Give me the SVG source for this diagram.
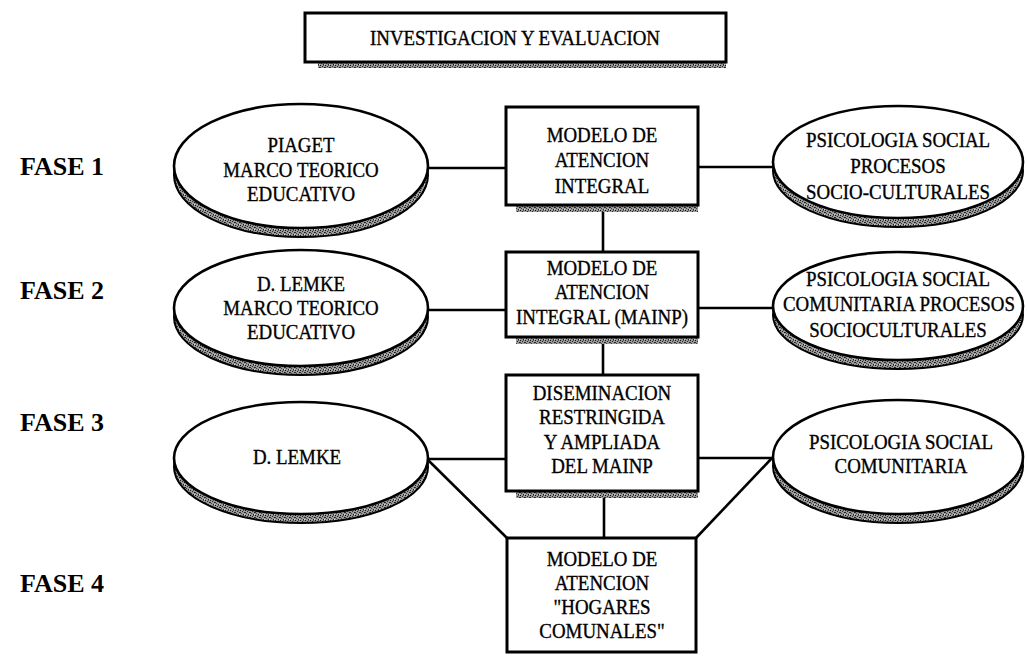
<svg xmlns="http://www.w3.org/2000/svg" width="1027" height="657" viewBox="0 0 1027 657">
<defs>
<pattern id="tex" width="5" height="5" patternUnits="userSpaceOnUse">
<rect width="5" height="5" fill="#9a9a9a"/>
<rect x="0" y="0" width="1" height="1" fill="#111"/>
<rect x="2" y="1" width="1" height="1" fill="#2a2a2a"/>
<rect x="4" y="2" width="1" height="1" fill="#1a1a1a"/>
<rect x="1" y="3" width="1" height="1" fill="#444"/>
<rect x="3" y="4" width="1" height="1" fill="#222"/>
<rect x="3" y="0" width="1" height="1" fill="#555"/>
<rect x="0" y="2" width="1" height="1" fill="#333"/>
<rect x="4" y="4" width="1" height="1" fill="#d8d8d8"/>
</pattern>
<style>
.t{font-family:"Liberation Serif","Times New Roman",serif;font-size:21px;fill:#000;stroke:#000;stroke-width:0.35;text-anchor:middle}
.f{font-family:"Liberation Serif","Times New Roman",serif;font-size:26px;font-weight:bold;fill:#000}
.box{fill:#fff;stroke:#000;stroke-width:3}
.bsh{fill:url(#tex)}
.ell{fill:#fff;stroke:#000;stroke-width:2.6}
.esh{fill:url(#tex);stroke:#000;stroke-width:2}
.ln{stroke:#000;stroke-width:2.6;fill:none}
</style>
</defs>
<rect width="1027" height="657" fill="#fff"/>

<g id="connectors">
<line class="ln" x1="428" y1="168" x2="506" y2="168"/>
<line class="ln" x1="698" y1="167" x2="773" y2="167"/>
<line class="ln" x1="603" y1="210" x2="603" y2="252"/>
<line class="ln" x1="428" y1="310" x2="506" y2="310"/>
<line class="ln" x1="698" y1="308" x2="773" y2="308"/>
<line class="ln" x1="603" y1="342" x2="603" y2="375"/>
<line class="ln" x1="427" y1="459" x2="506" y2="459"/>
<line class="ln" x1="698" y1="458" x2="772" y2="458"/>
<line class="ln" x1="604" y1="496" x2="604" y2="538"/>
<line class="ln" x1="427" y1="459" x2="507" y2="538"/>
<line class="ln" x1="772" y1="458" x2="696" y2="538"/>
</g>

<g id="title">
<rect class="bsh" x="318" y="62" width="408" height="6"/>
<rect class="box" x="305" y="13" width="421" height="49"/>
<text class="t" transform="translate(515,45) scale(0.9,1)">INVESTIGACION Y EVALUACION</text>
</g>

<g id="fase-labels">
<text class="f" x="20" y="175">FASE 1</text>
<text class="f" x="20" y="299">FASE 2</text>
<text class="f" x="20" y="431">FASE 3</text>
<text class="f" x="20" y="592">FASE 4</text>
</g>

<g id="piaget">
<ellipse class="esh" cx="301" cy="175" rx="127" ry="62"/>
<ellipse class="ell" cx="301" cy="166" rx="127" ry="62"/>
<text class="t" transform="translate(301,152) scale(0.9,1)">PIAGET</text>
<text class="t" transform="translate(301,177) scale(0.9,1)">MARCO TEORICO</text>
<text class="t" transform="translate(301,201) scale(0.9,1)">EDUCATIVO</text>
</g>

<g id="modelo1">
<rect class="bsh" x="516" y="205" width="182" height="7"/>
<rect class="box" x="506" y="107" width="192" height="98"/>
<text class="t" transform="translate(602,142) scale(0.9,1)">MODELO DE</text>
<text class="t" transform="translate(602,167) scale(0.9,1)">ATENCION</text>
<text class="t" transform="translate(602,193) scale(0.9,1)">INTEGRAL</text>
</g>

<g id="psico1">
<ellipse class="esh" cx="898" cy="171" rx="125" ry="56"/>
<ellipse class="ell" cx="898" cy="162" rx="125" ry="56"/>
<text class="t" transform="translate(898,147) scale(0.9,1)">PSICOLOGIA SOCIAL</text>
<text class="t" transform="translate(898,173) scale(0.9,1)">PROCESOS</text>
<text class="t" transform="translate(898,199) scale(0.9,1)">SOCIO-CULTURALES</text>
</g>

<g id="lemke2">
<ellipse class="esh" cx="301" cy="317" rx="127" ry="58"/>
<ellipse class="ell" cx="301" cy="308" rx="127" ry="58"/>
<text class="t" transform="translate(301,291) scale(0.9,1)">D. LEMKE</text>
<text class="t" transform="translate(301,315) scale(0.9,1)">MARCO TEORICO</text>
<text class="t" transform="translate(301,339) scale(0.9,1)">EDUCATIVO</text>
</g>

<g id="modelo2">
<rect class="bsh" x="516" y="337" width="182" height="7"/>
<rect class="box" x="506" y="252" width="192" height="85"/>
<text class="t" transform="translate(602,275) scale(0.9,1)">MODELO DE</text>
<text class="t" transform="translate(602,299) scale(0.9,1)">ATENCION</text>
<text class="t" transform="translate(602,324) scale(0.9,1)">INTEGRAL (MAINP)</text>
</g>

<g id="psico2">
<ellipse class="esh" cx="898" cy="315" rx="125" ry="54"/>
<ellipse class="ell" cx="898" cy="306" rx="125" ry="54"/>
<text class="t" transform="translate(898,286) scale(0.9,1)">PSICOLOGIA SOCIAL</text>
<text class="t" transform="translate(899,311) scale(0.9,1)">COMUNITARIA PROCESOS</text>
<text class="t" transform="translate(898,337) scale(0.9,1)">SOCIOCULTURALES</text>
</g>

<g id="lemke3">
<ellipse class="esh" cx="301" cy="467" rx="127" ry="56"/>
<ellipse class="ell" cx="301" cy="458" rx="127" ry="56"/>
<text class="t" transform="translate(297,464) scale(0.9,1)">D. LEMKE</text>
</g>

<g id="diseminacion">
<rect class="bsh" x="516" y="491" width="182" height="7"/>
<rect class="box" x="506" y="375" width="192" height="116"/>
<text class="t" transform="translate(602,400) scale(0.9,1)">DISEMINACION</text>
<text class="t" transform="translate(602,424) scale(0.9,1)">RESTRINGIDA</text>
<text class="t" transform="translate(602,449) scale(0.9,1)">Y AMPLIADA</text>
<text class="t" transform="translate(602,473) scale(0.9,1)">DEL MAINP</text>
</g>

<g id="psico3">
<ellipse class="esh" cx="898" cy="466" rx="125" ry="57"/>
<ellipse class="ell" cx="898" cy="457" rx="125" ry="57"/>
<text class="t" transform="translate(901,449) scale(0.9,1)">PSICOLOGIA SOCIAL</text>
<text class="t" transform="translate(901,473) scale(0.9,1)">COMUNITARIA</text>
</g>

<g id="hogares">
<rect class="box" x="507" y="538" width="189" height="114"/>
<text class="t" transform="translate(602,566) scale(0.9,1)">MODELO DE</text>
<text class="t" transform="translate(602,590) scale(0.9,1)">ATENCION</text>
<text class="t" transform="translate(602,614) scale(0.9,1)">"HOGARES</text>
<text class="t" transform="translate(602,638) scale(0.9,1)">COMUNALES"</text>
</g>
</svg>
